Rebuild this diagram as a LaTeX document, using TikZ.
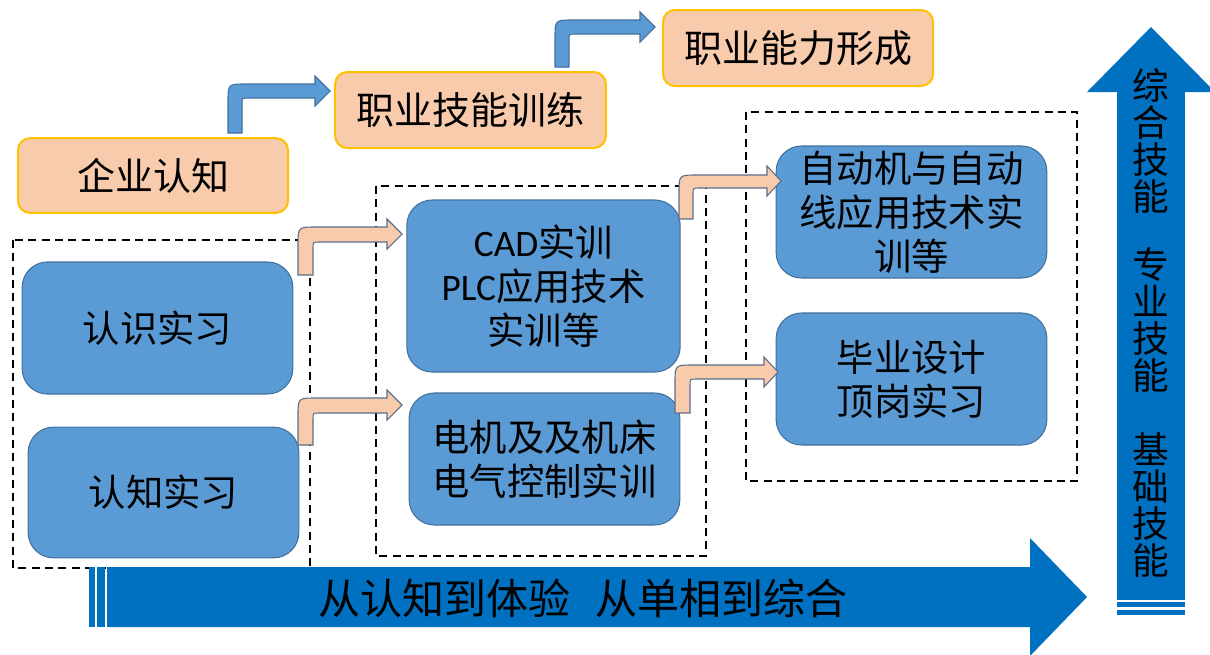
\documentclass[tikz,border=0pt]{standalone}
\usepackage{fontspec}
\newfontfamily\cjk{Noto Sans CJK SC}
\newfontfamily\carl{Carlito}
\definecolor{ofill}{HTML}{F8CBAD}
\definecolor{oline}{HTML}{FFC000}
\definecolor{bfill}{HTML}{5B9BD5}
\definecolor{bline}{HTML}{41719C}
\definecolor{big}{HTML}{0070C0}
\definecolor{aline}{HTML}{5A6E8C}
\tikzset{
  obox/.style={draw=oline, line width=1.5pt, fill=ofill, rounded corners=9pt, outer sep=0pt, inner sep=0pt,
    font=\cjk\fontsize{28.5}{30}\selectfont, align=center},
  bbox/.style={draw=bline, line width=0.8pt, fill=bfill, rounded corners=19pt, outer sep=0pt, inner sep=0pt,
    font=\cjk\fontsize{28}{33}\selectfont, align=center},
  dbox/.style={draw=black, line width=1.3pt, dash pattern=on 6pt off 4pt},
  bluearrow/.style={draw=bline, line width=0.8pt, fill=bfill},
  orarrow/.style={draw=aline, line width=0.8pt, fill=ofill},
  bigarrow/.style={fill=big},
  vtext/.style={font=\cjk\fontsize{27.5}{27.8}\selectfont, align=center, inner sep=0pt}
}
% bent block arrow: xL xR yB yOut yIn xh xt hT hB
\newcommand{\bentarr}[9]{%
  (#1,#3) -- (#1,#4+18) .. controls (#1,#4) .. (#1+18,#4) -- (#6,#4) -- (#6,#8) -- (#7,{(#8+#9)/2}) -- (#6,#9)
  -- (#6,#5) -- (#2+6,#5) .. controls (#2,#5) .. (#2,#5+6) -- (#2,#3) -- cycle}
\begin{document}
\begin{tikzpicture}[x=0.75pt,y=-0.75pt]
\useasboundingbox (0,0) rectangle (1210,654);
\fill[white] (0,0) rectangle (1210,654);

% dashed groups
\draw[dbox] (13,240) rectangle (310,568);
\draw[dbox] (376,186) rectangle (706,556);
\draw[dbox] (746,112) rectangle (1077,481);

% orange boxes
\node[obox, minimum width=202.5pt, minimum height=56pt] (qy) at (153,175.5) {企业认知};
\node[obox, minimum width=203pt, minimum height=57pt] (zyjn) at (470.5,110) {职业技能训练};
\node[obox, minimum width=202.5pt, minimum height=57pt] (zynl) at (798,48) {职业能力形成};

% blue boxes
\node[bbox, minimum width=203pt, minimum height=99pt] (rs) at (157.5,328) {认识实习};
\node[bbox, minimum width=203pt, minimum height=98pt] (rz) at (163.5,492.5) {认知实习};
\node[bbox, minimum width=205pt, minimum height=129pt] (cad) at (543.5,286) {{\carl CAD}实训\\{\carl PLC}应用技术\\实训等};
\node[bbox, minimum width=203pt, minimum height=99pt] (dj) at (544.5,459) {电机及及机床\\电气控制实训};
\node[bbox, minimum width=203pt, minimum height=99pt] (zd) at (911.5,212) {自动机与自动\\线应用技术实\\训等};
\node[bbox, minimum width=203pt, minimum height=99pt] (by) at (911.5,379) {毕业设计\\顶岗实习};

% blue bent arrows
\draw[bluearrow] \bentarr{228}{242}{133}{84}{98}{315}{330}{76}{106};
\draw[bluearrow] \bentarr{555}{569}{67}{20}{34}{640}{655}{12}{42};

% orange bent arrows
\draw[orarrow] \bentarr{298}{313}{275}{227}{242}{387}{402}{219}{249};
\draw[orarrow] \bentarr{298}{313}{445}{398}{413}{387}{402}{390}{420};
\draw[orarrow] \bentarr{679}{693}{219}{175}{188}{767}{781}{166}{196};
\draw[orarrow] \bentarr{675}{690}{413}{365}{379}{764}{778}{357}{387};

% bottom big arrow
\fill[bigarrow] (107,567) -- (1030,567) -- (1030,538) -- (1087,597) -- (1030,656) -- (1030,627) -- (107,627) -- cycle;
\fill[bigarrow] (89,567) rectangle (95,627);
\fill[bigarrow] (97,567) rectangle (105,627);
\node[font=\cjk\fontsize{31.5}{32}\selectfont, inner sep=0pt] (bt) at (583,598) {从认知到体验\hspace{0.6em}从单相到综合};

% right vertical arrow
\fill[bigarrow] (1117,92) rectangle (1185,600);
\fill[bigarrow] (1087,92) -- (1151,27) -- (1215,92) -- cycle;
\fill[bigarrow] (1117,602) rectangle (1185,607);
\fill[bigarrow] (1117,610) rectangle (1185,615);
\node[vtext] (v1) at (1151,141) {综\\合\\技\\能};
\node[vtext] (v2) at (1151,320) {专\\业\\技\\能};
\node[vtext] (v3) at (1151,505) {基\\础\\技\\能};
\end{tikzpicture}
\end{document}
